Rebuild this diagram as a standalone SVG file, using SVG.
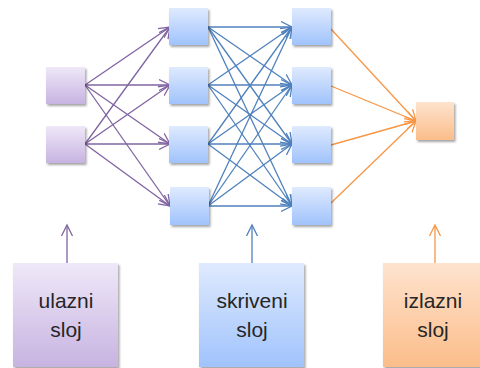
<svg xmlns="http://www.w3.org/2000/svg" width="480" height="368" viewBox="0 0 480 368">
<defs>
<linearGradient id="gp" x1="0" y1="0" x2="0" y2="1"><stop offset="0" stop-color="#EFE8F8"/><stop offset="1" stop-color="#C7B3E1"/></linearGradient>
<linearGradient id="gb" x1="0" y1="0" x2="0" y2="1"><stop offset="0" stop-color="#DFEAFE"/><stop offset="1" stop-color="#A0C3FC"/></linearGradient>
<linearGradient id="go" x1="0" y1="0" x2="0" y2="1"><stop offset="0" stop-color="#FEE3CE"/><stop offset="1" stop-color="#FBBD8A"/></linearGradient>
<filter id="sh" x="-20%" y="-20%" width="150%" height="150%"><feDropShadow dx="1.5" dy="2" stdDeviation="1.2" flood-color="#000" flood-opacity="0.35"/></filter>
<marker id="ap" markerUnits="userSpaceOnUse" markerWidth="14" markerHeight="14" refX="11" refY="6" orient="auto" viewBox="0 0 14 12"><path d="M0,0.5 L11,6 L0,11.5" fill="none" stroke="#8064A2" stroke-width="1.3"/></marker>
<marker id="ab" markerUnits="userSpaceOnUse" markerWidth="14" markerHeight="14" refX="11" refY="6" orient="auto" viewBox="0 0 14 12"><path d="M0,0.5 L11,6 L0,11.5" fill="none" stroke="#4F81BD" stroke-width="1.3"/></marker>
<marker id="ao" markerUnits="userSpaceOnUse" markerWidth="14" markerHeight="14" refX="11" refY="6" orient="auto" viewBox="0 0 14 12"><path d="M0,0.5 L11,6 L0,11.5" fill="none" stroke="#F79646" stroke-width="1.3"/></marker>
</defs>
<style>
.p{stroke:#8064A2;stroke-width:1.3;fill:none;marker-end:url(#ap)}
.b{stroke:#4F81BD;stroke-width:1.3;fill:none;marker-end:url(#ab)}
.o{stroke:#F79646;stroke-width:1.3;fill:none;marker-end:url(#ao)}
.np{fill:url(#gp);filter:url(#sh)}
.nb{fill:url(#gb);filter:url(#sh)}
.no{fill:url(#go);filter:url(#sh)}
text{font-family:"Liberation Sans",Arial,sans-serif;font-size:21px;fill:#262626;text-anchor:middle}
</style>
<g id="connectors">
<line class="p" x1="85" y1="85" x2="170" y2="27"/>
<line class="p" x1="85" y1="85" x2="170" y2="85"/>
<line class="p" x1="85" y1="85" x2="170" y2="144"/>
<line class="p" x1="85" y1="85" x2="170" y2="206"/>
<line class="p" x1="85" y1="144" x2="170" y2="27"/>
<line class="p" x1="85" y1="144" x2="170" y2="85"/>
<line class="p" x1="85" y1="144" x2="170" y2="144"/>
<line class="p" x1="85" y1="144" x2="170" y2="206"/>
<line class="b" x1="208" y1="27" x2="292" y2="27"/>
<line class="b" x1="208" y1="27" x2="292" y2="85"/>
<line class="b" x1="208" y1="27" x2="292" y2="144"/>
<line class="b" x1="208" y1="27" x2="292" y2="206"/>
<line class="b" x1="208" y1="85" x2="292" y2="27"/>
<line class="b" x1="208" y1="85" x2="292" y2="85"/>
<line class="b" x1="208" y1="85" x2="292" y2="144"/>
<line class="b" x1="208" y1="85" x2="292" y2="206"/>
<line class="b" x1="208" y1="144" x2="292" y2="27"/>
<line class="b" x1="208" y1="144" x2="292" y2="85"/>
<line class="b" x1="208" y1="144" x2="292" y2="144"/>
<line class="b" x1="208" y1="144" x2="292" y2="206"/>
<line class="b" x1="208" y1="206" x2="292" y2="27"/>
<line class="b" x1="208" y1="206" x2="292" y2="85"/>
<line class="b" x1="208" y1="206" x2="292" y2="144"/>
<line class="b" x1="208" y1="206" x2="292" y2="206"/>
<line class="o" x1="331" y1="29" x2="416" y2="121"/>
<line class="o" x1="331" y1="86" x2="416" y2="121"/>
<line class="o" x1="331" y1="145" x2="416" y2="121"/>
<line class="o" x1="331" y1="203" x2="416" y2="121"/>
<line class="p" x1="67" y1="263" x2="67" y2="225"/>
<line class="b" x1="252" y1="263" x2="252" y2="225"/>
<line class="o" x1="435" y1="263" x2="435" y2="225"/>
</g>
<g id="in1"><rect class="np" x="46" y="67" width="39" height="37"/></g>
<g id="in2"><rect class="np" x="46" y="126" width="39" height="37"/></g>
<g id="h1a"><rect class="nb" x="169" y="8" width="39" height="37"/></g>
<g id="h1b"><rect class="nb" x="169" y="67" width="39" height="37"/></g>
<g id="h1c"><rect class="nb" x="169" y="126" width="39" height="37"/></g>
<g id="h1d"><rect class="nb" x="170" y="187" width="39" height="38"/></g>
<g id="h2a"><rect class="nb" x="292" y="8" width="39" height="37"/></g>
<g id="h2b"><rect class="nb" x="292" y="67" width="39" height="37"/></g>
<g id="h2c"><rect class="nb" x="292" y="126" width="39" height="37"/></g>
<g id="h2d"><rect class="nb" x="292" y="187" width="39" height="38"/></g>
<g id="out"><rect class="no" x="416" y="102" width="38" height="38"/></g>
<g id="lbl-in"><rect class="np" x="13" y="263" width="105" height="104"/><text x="66" y="308">ulazni</text><text x="66" y="337">sloj</text></g>
<g id="lbl-hid"><rect class="nb" x="199" y="263" width="105" height="104"/><text x="252" y="308">skriveni</text><text x="252" y="337">sloj</text></g>
<g id="lbl-out"><rect class="no" x="383" y="263" width="98" height="104"/><text x="433" y="308">izlazni</text><text x="433" y="337">sloj</text></g>
</svg>
